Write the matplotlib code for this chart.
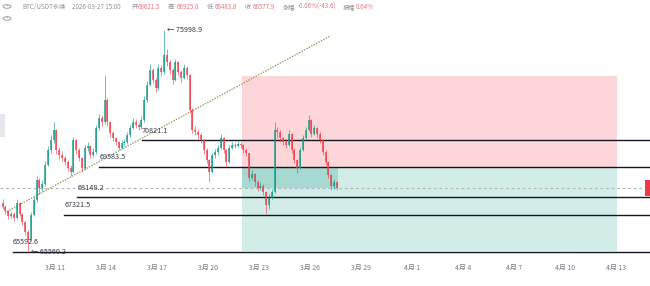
import matplotlib
matplotlib.use("Agg")
import matplotlib.pyplot as plt
from matplotlib.patches import Rectangle, Circle
import numpy as np

plt.rcParams['font.family'] = ['Noto Sans CJK SC', 'DejaVu Sans']

# ---------------- data ----------------
# 4h candles, time in days from 3月11 00:00; first candle starts 3月7 20:00
start_day = -3 - 4/24
step = 4/24
first_open = 67900
closes = [67700, 67500, 67270, 67370, 67180, 67880, 67370, 67000, 66520, 66150,
          67320, 68020, 68960, 68590, 68770, 69670, 70370, 70840, 71300, 70370,
          70130, 69990, 69800, 69520, 69340, 70840, 70370, 69990, 69520, 70460,
          70560, 70130, 70270, 71400, 71870, 71680, 72715, 71680, 71170, 70930,
          70740, 70460, 70700, 70740, 71070, 71400, 71680, 71540, 71450, 71780,
          72715, 73420, 74120, 73650, 73280, 74220, 74030, 74830, 74500, 74120,
          73650, 74500, 74030, 73750, 74220, 73890, 72250, 71310, 71210, 71070,
          70840, 70370, 69900, 69340, 70130, 70270, 70460, 70930, 70370, 69800,
          70460, 70600, 70560, 70650, 70600, 70370, 70230, 69060, 69240, 68870,
          68590, 68680, 68400, 67790, 68120, 68400, 71310, 71210, 70930, 70740,
          70600, 71120, 70370, 69900, 69520, 70370, 70930, 71310, 71780, 71120,
          71400, 71120, 70840, 70270, 69800, 69200, 68680, 68870, 68577.9]
highs = [68050, 67800, 67560, 67480, 67450, 68050, 67950, 67420, 67050, 66600,
         67450, 68200, 69150, 69050, 68950, 69850, 70550, 71050, 71680, 71350,
         70500, 70300, 70100, 69900, 69650, 71000, 70900, 70450, 70050, 70600,
         70750, 70600, 70450, 71550, 72050, 72000, 73890, 72800, 71750, 71250,
         71000, 70800, 70850, 70900, 71200, 71550, 71850, 71800, 71650, 71950,
         72900, 73600, 74400, 74200, 73750, 74400, 74350, 75998.9, 75100, 74600,
         74200, 74650, 74550, 74100, 74400, 74300, 73950, 72350, 71500, 71350,
         71150, 70900, 70450, 69950, 70250, 70400, 70600, 71100, 71000, 70400,
         70600, 70750, 70700, 70800, 70750, 70650, 70450, 70250, 69450, 69300,
         68950, 68850, 68750, 68450, 68300, 68550, 71680, 71450, 71300, 71000,
         70850, 71300, 71150, 70450, 69950, 70500, 71050, 71450, 72010, 71800,
         71550, 71450, 71200, 70900, 70350, 69850, 69250, 69000, 68925.0]
lows = [67600, 67380, 67150, 67180, 67050, 67150, 67250, 66850, 66400, 65560.2,
        66100, 67250, 67950, 68300, 68450, 68700, 69600, 70250, 70700, 70200,
        69950, 69850, 69650, 69400, 69150, 69300, 70200, 69850, 69350, 69450,
        70300, 70000, 70050, 70200, 71300, 71500, 71600, 71500, 71000, 70800,
        70600, 70350, 70400, 70550, 70650, 71000, 71350, 71400, 71300, 71350,
        71700, 72600, 73350, 73500, 73100, 73200, 73850, 73950, 74300, 73950,
        73450, 73600, 73900, 73550, 73700, 73700, 72100, 71150, 71050, 70900,
        70700, 70200, 69750, 68870, 69300, 70000, 70150, 70400, 70250, 69600,
        69750, 70400, 70450, 70500, 70480, 70250, 70100, 68900, 68950, 68700,
        68450, 68500, 68250, 67413, 67600, 68050, 68350, 70950, 70750, 70600,
        70450, 70550, 70250, 69750, 69300, 69500, 70300, 70850, 71250, 71000,
        71050, 70950, 70700, 70150, 69650, 69050, 68500, 68550, 68483.8]

levels = [70821.1, 69583.5, 68148.2, 67321.5, 65592.6]
level_start = [5.1, 2.61, 1.31, 0.55, -2.49]

high_label = "75998.9"
low_label = "65560.2"
last_price = 68577.9

# position tool (short): entry, stop, target, time span
entry_price = 69583.5
stop_price = 73855
target_price = 65644
pos_start, pos_end = 10.98, 33.04

trend_pts_x = [-2.84, 16.18]
trend_pts_y = [67474, 75717]

tick_days = [0, 3, 6, 9, 12, 15, 18, 21, 24, 27, 30, 33]
tick_labels = ["3月 11", "3月 14", "3月 17", "3月 20", "3月 23", "3月 26",
               "3月 29", "4月 1", "4月 4", "4月 7", "4月 10", "4月 13"]

header = [("BTC/USDT永续", 22, 'lab'), ("2026-03-27 15:00", 72, 'lab'),
          ("开", 132, 'lab'), ("68621.5", 138, 'val'),
          ("高", 168, 'lab'), ("68925.0", 177, 'val'),
          ("低", 207, 'lab'), ("68483.8", 215, 'val'),
          ("收", 245, 'lab'), ("68577.9", 253, 'val'),
          ("涨幅", 283, 'lab'), ("-0.06%(-43.6)", 298, 'val'),
          ("振幅", 343, 'lab'), ("0.64%", 356, 'val')]

# ---------------- figure ----------------
W, H = 650, 286
fig = plt.figure(figsize=(W/100, H/100), dpi=100)
ax = fig.add_axes([0, 28/H, 1, 258/H])

def py(yp):
    return 75999 - 46.92*(yp - 30)

ax.set_xlim(-55/17, 595/17)
ax.set_ylim(py(258), py(0))

UP, DN = '#089981', '#f23645'

# position tool boxes
ax.add_patch(Rectangle((pos_start, entry_price), pos_end - pos_start, stop_price - entry_price,
                       facecolor=DN, alpha=0.2, lw=0, zorder=1))
ax.add_patch(Rectangle((pos_start, target_price), pos_end - pos_start, entry_price - target_price,
                       facecolor=UP, alpha=0.18, lw=0, zorder=1))
n = len(closes)
t = start_day + step*np.arange(n)
last_t = t[-1] + step
ax.add_patch(Rectangle((pos_start, last_price), last_t - pos_start, entry_price - last_price,
                       facecolor=UP, alpha=0.22, lw=0, zorder=1))

# horizontal levels
for lv, st in zip(levels, level_start):
    ax.plot([st, 36], [lv, lv], color='#131722', lw=1.0, zorder=3)
    ax.annotate(f"{lv:.1f}", (st, lv), xytext=(0, 4), textcoords='offset points',
                fontsize=5.2, color='#363a45', ha='left', va='bottom', zorder=6)

# current price dashed line
ax.axhline(last_price, color='#b2b5be', lw=0.8, ls=(0, (2.5, 2.5)), zorder=2)

# trendline
ax.plot(trend_pts_x, trend_pts_y, color='#9a9b63', lw=0.9, ls=(0, (1.2, 1.0)), zorder=4)

# candles
opens = [first_open] + closes[:-1]
w = step*0.75
for ti, o, h, l, c in zip(t, opens, highs, lows, closes):
    col = UP if c >= o else DN
    xc = ti + step/2
    ax.vlines(xc, l, h, color=col, lw=0.6, alpha=0.7, zorder=5)
    ax.add_patch(Rectangle((xc - w/2, min(o, c)), w, max(abs(c - o), 15),
                           facecolor=col, edgecolor='none', alpha=0.7, zorder=5))

# high / low markers
hi_i = int(np.argmax(highs)); lo_i = int(np.argmin(lows))
ax.annotate("← " + high_label, (t[hi_i] + step/2, highs[hi_i]), xytext=(2, 0),
            textcoords='offset points', fontsize=5.2, color='#363a45', va='center', ha='left', zorder=6)
ax.annotate("← " + low_label, (t[lo_i] + step/2, lows[lo_i]), xytext=(2, 0),
            textcoords='offset points', fontsize=5.2, color='#363a45', va='center', ha='left', zorder=6)

ax.set_xticks(tick_days)
ax.set_xticklabels(tick_labels, fontsize=5, color='#787b86')
ax.tick_params(axis='x', length=0, pad=4)
ax.set_yticks([])
for s in ax.spines.values():
    s.set_visible(False)

# header text
for txt, xp, kind in header:
    fig.text(xp/W, 1 - 7/H, txt, fontsize=4.5, va='center', ha='left',
             color='#8f929b' if kind == 'lab' else '#e27884')

# header icons
for yc in (6.5, 18.5):
    fig.patches.append(Circle((7/W, 1 - yc/H), 4/W, transform=fig.transFigure,
                              facecolor='white', edgecolor='#8f929b', lw=0.6))
    fig.text(7/W, 1 - (yc + 0.5)/H, "˅", fontsize=4, color='#8f929b', ha='center', va='center')

# left collapse tab
fig.patches.append(Rectangle((0, 1 - 137/H), 5/W, 23/H, transform=fig.transFigure,
                             facecolor='#e6e8ee', edgecolor='none'))
# right price tag
fig.patches.append(Rectangle((645/W, 1 - 196/H), 5/W, 16/H, transform=fig.transFigure,
                             facecolor='#f23645', edgecolor='none'))

fig.savefig("out.png", dpi=100)
